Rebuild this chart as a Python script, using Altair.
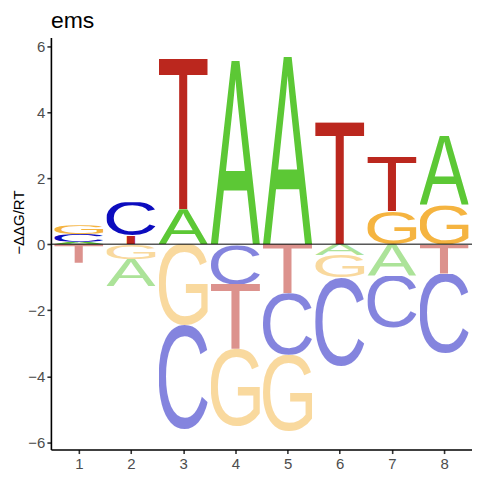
import base64, glob, struct
import pandas as pd
import altair as alt

# ---- data (energy per letter, per position) ----
positions = [1, 2, 3, 4, 5, 6, 7, 8]
val_A = [0.07, -0.82, 1.06, 5.56, 5.68, -0.33, -0.95, 2.11]
val_C = [0.24, 1.02, -3.15, -1.21, -1.86, -2.68, -1.59, -2.41]
val_G = [0.26, -0.45, -2.45, -2.35, -2.32, -0.68, 1.00, 1.18]
val_T = [-0.56, 0.25, 4.56, -1.96, -1.49, 3.69, 1.64, -0.89]
letters = ["A", "C", "G", "T"]
y_ticks = [-6, -4, -2, 0, 2, 4, 6]

colors = {"A": "#5CC835", "C": "#0C0CBE", "G": "#F5B440", "T": "#BB271E"}
neg_opacity = 0.5
FONT = "Liberation Sans"

# ---- glyph ink bounds (read from the installed font when possible) ----
fallback = {"A": (-3, 1369, 0, 1466), "C": (100, 1386, -25, 1491),
            "G": (108, 1480, -25, 1491), "T": (50, 1198, 0, 1466)}


def read_bounds(path, chars):
    data = open(path, "rb").read()
    n = struct.unpack(">H", data[4:6])[0]
    tab = {}
    for i in range(n):
        tag, _, off, ln = struct.unpack(">4sIII", data[12 + 16 * i:28 + 16 * i])
        tab[tag.decode("latin1")] = off
    head = tab["head"]
    locfmt = struct.unpack(">h", data[head + 50:head + 52])[0]
    cm = tab["cmap"]
    nsub = struct.unpack(">H", data[cm + 2:cm + 4])[0]
    sub = None
    for i in range(nsub):
        pid, eid, off = struct.unpack(">HHI", data[cm + 4 + 8 * i:cm + 12 + 8 * i])
        if pid == 3 and eid == 1:
            sub = cm + off
    fmt = struct.unpack(">H", data[sub:sub + 2])[0]
    assert fmt == 4
    seg2 = struct.unpack(">H", data[sub + 6:sub + 8])[0]
    seg = seg2 // 2
    ends = struct.unpack(">%dH" % seg, data[sub + 14:sub + 14 + seg2])
    sp = sub + 16 + seg2
    starts = struct.unpack(">%dH" % seg, data[sp:sp + seg2])
    deltas = struct.unpack(">%dh" % seg, data[sp + seg2:sp + 2 * seg2])
    rop = sp + 2 * seg2
    ranges = struct.unpack(">%dH" % seg, data[rop:rop + seg2])
    loca = tab["loca"]
    glyf = tab["glyf"]
    out = {}
    for ch in chars:
        c = ord(ch)
        gid = 0
        for i in range(seg):
            if starts[i] <= c <= ends[i]:
                if ranges[i] == 0:
                    gid = (c + deltas[i]) & 0xFFFF
                else:
                    a = rop + 2 * i + ranges[i] + 2 * (c - starts[i])
                    g = struct.unpack(">H", data[a:a + 2])[0]
                    gid = (g + deltas[i]) & 0xFFFF if g else 0
                break
        if locfmt == 0:
            go = struct.unpack(">H", data[loca + 2 * gid:loca + 2 * gid + 2])[0] * 2
        else:
            go = struct.unpack(">I", data[loca + 4 * gid:loca + 4 * gid + 4])[0]
        _, x0, y0, x1, y1 = struct.unpack(">hhhhh", data[glyf + go:glyf + go + 10])
        out[ch] = (x0, x1, y0, y1)
    return out


bounds = fallback
try:
    files = glob.glob("/usr/share/fonts/**/LiberationSans-Regular.ttf", recursive=True)
    if files:
        bounds = read_bounds(files[0], letters)
except Exception:
    bounds = fallback


def letter_url(ch):
    x0, x1, y0, y1 = bounds[ch]
    svg = ('<svg xmlns="http://www.w3.org/2000/svg" viewBox="%d %d %d %d" '
           'preserveAspectRatio="none"><text x="0" y="0" font-family="%s, Arial, sans-serif" '
           'font-weight="normal" font-size="2048" fill="%s">%s</text></svg>'
           % (x0, -y1, x1 - x0, y1 - y0, FONT, colors[ch], ch))
    return "data:image/svg+xml;base64," + base64.b64encode(svg.encode()).decode()


# ---- stack letters per position (positive up, negative down, small near zero) ----
vals = {"A": val_A, "C": val_C, "G": val_G, "T": val_T}
rows = []
for i, p in enumerate(positions):
    pos = sorted([(vals[l][i], l) for l in letters if vals[l][i] > 0])
    neg = sorted([(-vals[l][i], l) for l in letters if vals[l][i] < 0])
    base = 0.0
    for v, l in pos:
        rows.append({"pos": p, "letter": l, "lo": base, "hi": base + v, "op": 1.0})
        base += v
    base = 0.0
    for v, l in neg:
        rows.append({"pos": p, "letter": l, "lo": base - v, "hi": base, "op": neg_opacity})
        base -= v
df = pd.DataFrame(rows)
df["url"] = df["letter"].map(letter_url)

xscale = alt.Scale(domain=[0.465, 8.535], nice=False, zero=False)
yscale = alt.Scale(domain=[-6.22, 6.26], nice=False, zero=False)

axis_common = dict(domainColor="black", domainWidth=1.6, tickColor="#333333", tickWidth=1.6,
                   tickSize=4, labelColor="#4D4D4D", labelFont=FONT, labelFontSize=15,
                   grid=False)

logo = alt.Chart(df).mark_image(aspect=False).transform_calculate(
    x0="datum.pos - 0.47", x1="datum.pos + 0.47"
).encode(
    x=alt.X("x0:Q", scale=xscale,
            axis=alt.Axis(values=positions, title=None, labelPadding=3, **axis_common)),
    x2="x1:Q",
    y=alt.Y("lo:Q", scale=yscale,
            axis=alt.Axis(values=y_ticks, title="\u2212\u0394\u0394G/RT", titleFont=FONT,
                          titleFontSize=15, titleFontWeight="normal", titleColor="black",
                          titleY=185, titleX=-24, labelPadding=2, **axis_common)),
    y2="hi:Q",
    url="url:N",
    opacity=alt.Opacity("op:Q", scale=None, legend=None),
)

zero = alt.Chart(pd.DataFrame({"z": [0]})).mark_rule(color="black", strokeWidth=1).encode(
    y=alt.Y("z:Q", scale=yscale)
)

chart = alt.layer(logo, zero).properties(
    width=422, height=413,
    title=alt.TitleParams("ems", anchor="start", font=FONT, fontSize=23, fontWeight="normal",
                          color="black", offset=4, frame="group"),
    autosize=alt.AutoSizeParams(type="none"),
    padding={"left": 43, "top": 29, "right": 0, "bottom": 28},
).configure_view(stroke=None)

chart.save("out.html", embed_options={"renderer": "svg", "actions": False})
